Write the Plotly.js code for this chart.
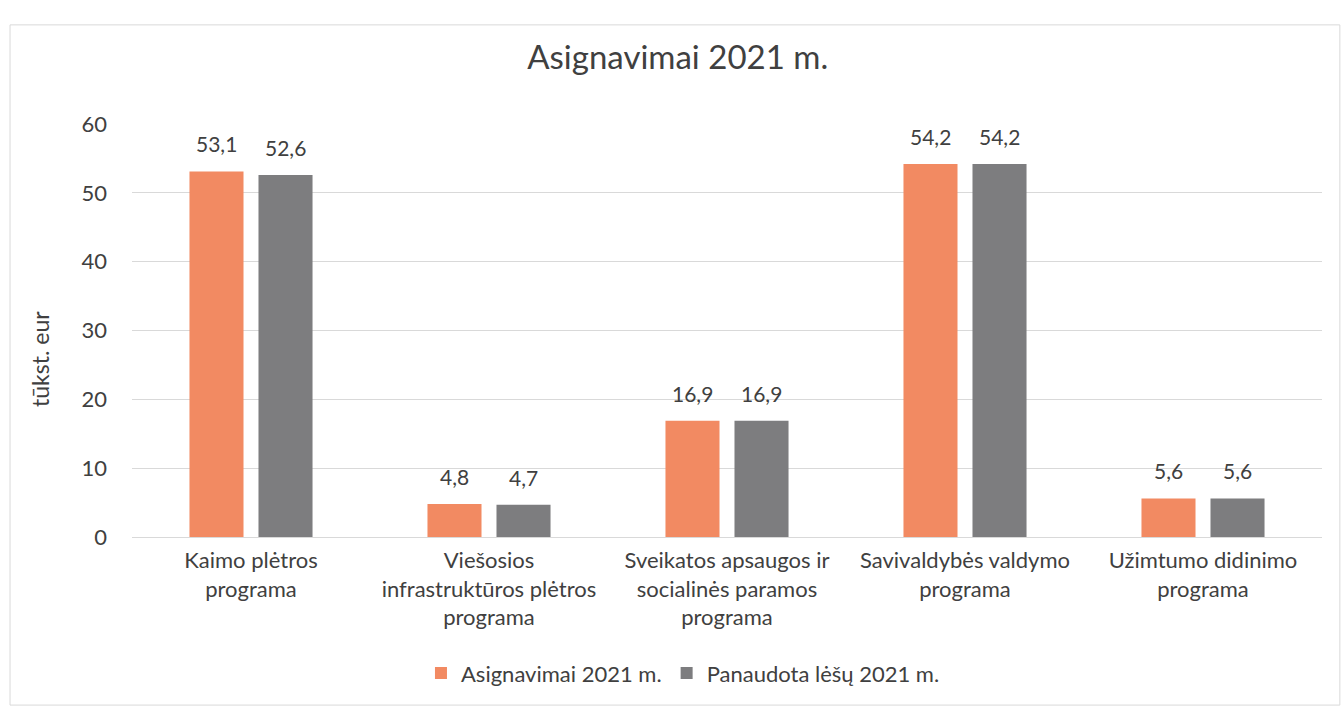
<!DOCTYPE html>
<html>
<head>
<meta charset="utf-8">
<script src="https://cdn.plot.ly/plotly-3.0.1.min.js"></script>
<style>html,body{margin:0;padding:0;background:#fff;}#chart{width:1342px;height:713px;}</style>
</head>
<body>
<div id="chart"></div>
<script>
const categories = [
  "Kaimo plėtros<br>programa",
  "Viešosios<br>infrastruktūros plėtros<br>programa",
  "Sveikatos apsaugos ir<br>socialinės paramos<br>programa",
  "Savivaldybės valdymo<br>programa",
  "Užimtumo didinimo<br>programa"
];
const asignavimai = [53.1, 4.8, 16.9, 54.2, 5.6];
const panaudota = [52.6, 4.7, 16.9, 54.2, 5.6];
const seriesNames = ["Asignavimai 2021 m.", "Panaudota lėšų 2021 m."];
const yTicks = [0, 10, 20, 30, 40, 50, 60];
const yTitle = "tūkst. eur";
const chartTitle = "Asignavimai 2021 m.";

const fmt = v => v.toFixed(1).replace('.', ',');
const font = "Lato, 'Open Sans', 'DejaVu Sans', sans-serif";
const txtColor = '#404040';

const traces = [
  {type:'bar', name:seriesNames[0], x:categories, y:asignavimai,
   marker:{color:'#F28A62'}},
  {type:'bar', name:seriesNames[1], x:categories, y:panaudota,
   marker:{color:'#7D7D7F'}}
];

// data labels placed above each bar (offset to each bar of the group)
const annotations = [];
[[asignavimai, -34.5], [panaudota, 34.5]].forEach(([vals, dx]) => {
  vals.forEach((v, i) => {
    annotations.push({x:categories[i], y:v, xref:'x', yref:'y', text:fmt(v),
      showarrow:false, xshift:dx, yshift:13, yanchor:'bottom',
      font:{size:21, color:txtColor, family:font}});
  });
});
annotations.push({text:yTitle, xref:'paper', yref:'paper', x:-0.0773, y:0.431,
  xanchor:'center', yanchor:'middle', textangle:-90, showarrow:false,
  font:{size:23, color:txtColor, family:font}});

const layout = {
  width:1342, height:713,
  paper_bgcolor:'#fff', plot_bgcolor:'#fff',
  font:{family:font, color:txtColor, size:21},
  margin:{l:132, r:20, t:124, b:176},
  title:{text:chartTitle, x:0.505, xanchor:'center', y:0.919, yanchor:'middle',
         font:{size:33, color:txtColor, family:font}},
  barmode:'group', bargap:0.42, bargroupgap:0.217,
  xaxis:{tickfont:{size:22, color:txtColor}, showgrid:false, showline:false, ticks:'',
         ticklabelstandoff:8},
  yaxis:{range:[0,60], tickvals:yTicks, ticktext:yTicks.map(String), showgrid:true, gridcolor:'#D9D9D9',
         zeroline:true, zerolinecolor:'#D9D9D9', showline:false, ticks:'', ticklen:0,
         ticklabelstandoff:24,
         tickfont:{size:22, color:txtColor}},
  legend:{orientation:'h', x:0.463, xanchor:'center', y:-0.33, yanchor:'middle',
          font:{size:22, color:txtColor}, traceorder:'normal'},
  annotations:annotations,
  shapes:[{type:'rect', xref:'paper', yref:'paper', x0:-0.1025, x1:1.015, y0:-0.407, y1:1.24,
           line:{color:'#D9D9D9', width:1}, fillcolor:'rgba(0,0,0,0)'}],
  showlegend:true
};

Plotly.newPlot('chart', traces, layout, {displayModeBar:false, staticPlot:true});
</script>
</body>
</html>
